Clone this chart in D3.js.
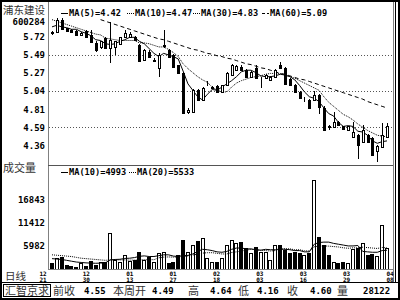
<!DOCTYPE html>
<html>
<head>
<meta charset="utf-8">
<script src="https://cdn.jsdelivr.net/npm/d3@7"></script>
<style>
body { margin: 0; background: #fff; }
svg { display: block; }
</style>
</head>
<body>
<div id="container"><svg></svg></div>
<script>
let width = 400
let height = 300
let monoFont = '"DejaVu Sans Mono", "Liberation Mono", monospace'
let cnFont = '"Noto Sans CJK SC", sans-serif'

let stockName = '浦东建设'
let stockCode = '600284'

// daily candles, oldest first
let opens = [5.77, 5.78, 5.93, 5.82, 5.80, 5.79, 5.74, 5.79, 5.74, 5.64,
    5.59, 5.70, 5.58, 5.59, 5.63, 5.72, 5.72, 5.71, 5.61, 5.43,
    5.53, 5.41, 5.33, 5.60, 5.55, 5.49, 5.36, 5.27, 4.78, 4.78,
    5.05, 4.93, 5.13, 5.08, 5.10, 5.03, 5.12, 5.24, 5.30, 5.34,
    5.30, 5.22, 5.33, 5.17, 5.20, 5.18, 5.22, 5.36, 5.33, 5.19,
    5.12, 5.03, 4.93, 4.93, 4.93, 4.99, 4.83, 4.60, 4.59, 4.66,
    4.60, 4.56, 4.47, 4.49, 4.40, 4.49, 4.46, 4.30, 4.34, 4.47]
let highs = [5.79, 5.95, 5.95, 5.83, 5.81, 5.80, 5.78, 5.80, 5.80, 5.66,
    5.67, 5.71, 5.90, 5.67, 5.72, 5.80, 5.77, 5.73, 5.63, 5.57,
    5.55, 5.45, 5.51, 5.80, 5.57, 5.50, 5.37, 5.28, 4.83, 5.06,
    5.07, 5.09, 5.17, 5.10, 5.11, 5.12, 5.28, 5.38, 5.37, 5.36,
    5.31, 5.29, 5.37, 5.21, 5.25, 5.23, 5.31, 5.40, 5.34, 5.20,
    5.13, 5.04, 4.97, 4.94, 5.04, 5.00, 4.85, 4.62, 4.78, 4.67,
    4.61, 4.61, 4.66, 4.50, 4.62, 4.50, 4.47, 4.37, 4.64, 4.64]
let lows = [5.74, 5.77, 5.80, 5.78, 5.77, 5.73, 5.73, 5.70, 5.64, 5.53,
    5.57, 5.57, 5.39, 5.49, 5.62, 5.71, 5.71, 5.66, 5.40, 5.42,
    5.45, 5.40, 5.22, 5.58, 5.46, 5.33, 5.26, 4.75, 4.75, 4.77,
    4.92, 4.92, 5.10, 5.06, 5.02, 5.02, 5.11, 5.23, 5.29, 5.29,
    5.21, 5.21, 5.19, 5.08, 5.19, 5.17, 5.21, 5.32, 5.12, 5.11,
    5.02, 4.94, 4.90, 4.82, 4.92, 4.76, 4.55, 4.55, 4.58, 4.61,
    4.56, 4.54, 4.46, 4.20, 4.39, 4.40, 4.24, 4.16, 4.33, 4.46]
let closes = [5.76, 5.93, 5.81, 5.79, 5.78, 5.74, 5.76, 5.71, 5.65, 5.55,
    5.66, 5.58, 5.68, 5.66, 5.71, 5.76, 5.75, 5.68, 5.41, 5.55,
    5.47, 5.43, 5.49, 5.61, 5.47, 5.34, 5.27, 4.77, 4.81, 5.05,
    4.93, 5.08, 5.13, 5.09, 5.03, 5.11, 5.27, 5.36, 5.35, 5.30,
    5.22, 5.28, 5.20, 5.17, 5.24, 5.22, 5.30, 5.33, 5.13, 5.12,
    5.03, 4.95, 4.93, 4.83, 4.99, 4.84, 4.56, 4.59, 4.66, 4.62,
    4.57, 4.60, 4.53, 4.37, 4.56, 4.41, 4.25, 4.36, 4.49, 4.60]
let volumes = [1970, 3150, 3380, 1500, 1260, 1100, 1970, 1260, 2440, 1500,
    2200, 2280, 9050, 2680, 2200, 3860, 2510, 2680, 4640, 2680,
    3380, 2200, 4330, 4640, 1970, 2200, 3860, 7400, 4640, 6220,
    7160, 7870, 3150, 2280, 2280, 3150, 6220, 7400, 6690, 7000,
    5510, 4330, 5820, 4640, 4560, 2680, 6220, 6220, 5040, 4330,
    4640, 4330, 3860, 4330, 21500, 8000, 6300, 3860, 2280, 1970,
    2200, 1900, 5300, 5500, 6800, 3800, 4000, 3700, 11000, 5600]

// moving averages as drawn (MA60 line is not visible in the chart, only its legend value)
let ma5 = [5.84, 5.86, 5.84, 5.83, 5.81, 5.81, 5.78, 5.76, 5.73, 5.68,
    5.67, 5.63, 5.62, 5.63, 5.66, 5.68, 5.71, 5.71, 5.66, 5.63,
    5.57, 5.51, 5.47, 5.51, 5.49, 5.47, 5.44, 5.29, 5.13, 5.05,
    4.97, 4.93, 5.00, 5.06, 5.05, 5.09, 5.13, 5.17, 5.22, 5.28,
    5.30, 5.30, 5.27, 5.23, 5.22, 5.22, 5.23, 5.25, 5.24, 5.22,
    5.18, 5.11, 5.03, 4.97, 4.95, 4.91, 4.83, 4.76, 4.73, 4.65,
    4.60, 4.61, 4.60, 4.54, 4.53, 4.49, 4.42, 4.39, 4.41, 4.42]
let ma10 = [5.93, 5.91, 5.89, 5.87, 5.85, 5.83, 5.81, 5.79, 5.77, 5.75,
    5.74, 5.70, 5.69, 5.68, 5.67, 5.67, 5.67, 5.67, 5.64, 5.64,
    5.63, 5.61, 5.59, 5.59, 5.56, 5.52, 5.47, 5.38, 5.32, 5.27,
    5.22, 5.18, 5.15, 5.09, 5.05, 5.03, 5.03, 5.09, 5.14, 5.17,
    5.19, 5.21, 5.22, 5.23, 5.25, 5.26, 5.26, 5.26, 5.24, 5.22,
    5.20, 5.17, 5.14, 5.11, 5.08, 5.05, 4.97, 4.90, 4.85, 4.80,
    4.75, 4.72, 4.68, 4.63, 4.59, 4.55, 4.52, 4.49, 4.48, 4.47]
let ma30 = [null, null, null, null, null, null, null, null, null, null,
    5.93, 5.91, 5.89, 5.87, 5.85, 5.83, 5.81, 5.79, 5.77, 5.75,
    5.73, 5.71, 5.69, 5.68, 5.66, 5.64, 5.62, 5.60, 5.58, 5.56,
    5.55, 5.53, 5.51, 5.50, 5.48, 5.47, 5.45, 5.44, 5.42, 5.40,
    5.38, 5.37, 5.35, 5.33, 5.32, 5.30, 5.28, 5.26, 5.25, 5.23,
    5.21, 5.19, 5.18, 5.16, 5.14, 5.12, 5.10, 5.08, 5.06, 5.04,
    5.02, 5.00, 4.98, 4.96, 4.94, 4.91, 4.89, 4.87, 4.85, 4.83]
let volMa10 = [3000, 2900, 2800, 2600, 2400, 2200, 2100, 2000, 1950, 1900,
    1950, 2000, 2700, 2800, 2850, 3050, 3100, 3250, 3550, 3650,
    3500, 3500, 3700, 3900, 3900, 3600, 3500, 3750, 3750, 4100,
    4700, 5200, 5100, 4900, 4600, 4500, 4700, 5200, 5500, 5500,
    5300, 5300, 5100, 5000, 5200, 5100, 5100, 5300, 5200, 5100,
    4900, 4900, 4600, 4600, 6400, 6800, 6900, 6900, 6600, 6400,
    6200, 6000, 6000, 6100, 4700, 4600, 4500, 4500, 4900, 4993]
let volMa20 = [3900, 3800, 3700, 3600, 3500, 3300, 3100, 3000, 2900, 2800,
    2700, 2600, 2700, 2700, 2700, 2700, 2650, 2650, 2700, 2750,
    2750, 2750, 3200, 3350, 3400, 3350, 3400, 3500, 3650, 3850,
    4100, 4300, 4400, 4400, 4250, 4100, 4100, 4450, 4600, 4800,
    5000, 5200, 5100, 4950, 4900, 4800, 4900, 5150, 5350, 5300,
    5100, 5100, 4850, 4800, 5800, 5950, 6000, 5950, 5850, 5750,
    5550, 5450, 5550, 5550, 5700, 5600, 5500, 5400, 5650, 5533]

let priceTicks = [5.72, 5.49, 5.27, 5.04, 4.81, 4.59, 4.36]
let gridTicks = [5.49, 5.04, 4.59]
let volTicks = [16843, 11412, 5982]
let volBase = 552
let dateMonths = ['12', '12', '01', '01', '02', '03', '03', '03', '04']
let dateDays = ['21', '30', '13', '27', '18', '03', '16', '29', '08']

let priceLegend = ['MA(5)=4.42', 'MA(10)=4.47', 'MA(30)=4.83', 'MA(60)=5.09']
let volLegend = ['MA(10)=4993', 'MA(20)=5533']
let infoLabels = ['前收', '本周开', '高', '低', '收', '量']
let infoValues = ['4.55', '4.49', '4.64', '4.16', '4.60', '28122']
let brand = '汇智京求'

function draw_main() {
    let svg = d3.select('#container').select('svg')
        .attr('width', width)
        .attr('height', height)
    let plot = { left: 48, right: 393, priceTop: 17, priceBottom: 164, volTop: 165, volBottom: 269 }
    let n = closes.length

    let x = d3.scaleLinear().domain([0, n - 1]).range([52, 387])
    let y = d3.scaleLinear().domain([4.36, 5.72]).range([145.7, 36.5])
    let yv = d3.scaleLinear().domain([volBase, 16843]).range([plot.volBottom, 200])
    let cx = i => Math.round(x(i))

    // frame
    svg.append('rect').attr('x', 1).attr('y', 1).attr('width', width - 2).attr('height', height - 2)
        .attr('fill', 'none').attr('stroke', '#000').attr('stroke-width', 2)
    let frame = svg.append('g').attr('stroke', '#808080').attr('shape-rendering', 'crispEdges')
    frame.append('line').attr('x1', plot.left + 0.5).attr('x2', plot.left + 0.5).attr('y1', 2).attr('y2', plot.volBottom)
    frame.append('line').attr('x1', plot.right + 0.5).attr('x2', plot.right + 0.5).attr('y1', 2).attr('y2', 282)
    frame.append('line').attr('x1', 395.5).attr('x2', 395.5).attr('y1', 2).attr('y2', 282).attr('stroke', '#000')
    frame.append('line').attr('x1', plot.left).attr('x2', plot.right).attr('y1', plot.volTop + 0.5).attr('y2', plot.volTop + 0.5).attr('stroke', '#555')
    frame.append('line').attr('x1', plot.left).attr('x2', plot.right).attr('y1', plot.volBottom + 0.5).attr('y2', plot.volBottom + 0.5)
    frame.append('line').attr('x1', 2).attr('x2', width - 2).attr('y1', 282.5).attr('y2', 282.5).attr('stroke', '#000')

    // clip paths
    let defs = svg.append('defs')
    defs.append('clipPath').attr('id', 'clip-price').append('rect')
        .attr('x', plot.left + 1).attr('y', plot.priceTop).attr('width', plot.right - plot.left - 1).attr('height', plot.priceBottom - plot.priceTop)
    defs.append('clipPath').attr('id', 'clip-vol').append('rect')
        .attr('x', plot.left + 1).attr('y', plot.volTop + 8).attr('width', plot.right - plot.left - 1).attr('height', plot.volBottom - plot.volTop - 8)

    // left labels
    svg.append('text').attr('x', 3).attr('y', 14).text(stockName)
        .attr('font-family', cnFont).attr('font-size', 10.5).attr('fill', '#333')
    svg.append('text').attr('x', 45).attr('y', 25).attr('text-anchor', 'end').text(stockCode)
        .attr('font-family', monoFont).attr('font-size', 9).attr('font-weight', 'bold')
    svg.append('text').attr('x', 3).attr('y', 172).text('成交量')
        .attr('font-family', cnFont).attr('font-size', 11).attr('fill', '#333')
    svg.append('text').attr('x', 5).attr('y', 279.5).text('日线')
        .attr('font-family', cnFont).attr('font-size', 10.5).attr('fill', '#333')

    // price axis
    let axis_p = d3.axisLeft(y).tickValues(priceTicks).tickSize(0).tickPadding(0).tickFormat(d3.format('.2f'))
    svg.append('g').attr('transform', `translate(${45}, 0)`)
        .call(axis_p)
        .call(g => g.select('.domain').remove())
        .attr('font-family', monoFont).attr('font-size', 9).attr('font-weight', 'bold')

    // volume axis
    let axis_v = d3.axisLeft(yv).tickValues(volTicks).tickSize(0).tickPadding(0).tickFormat(d3.format('d'))
    svg.append('g').attr('transform', `translate(${45}, 0)`)
        .call(axis_v)
        .call(g => g.select('.domain').remove())
        .attr('font-family', monoFont).attr('font-size', 9).attr('font-weight', 'bold')

    // dotted grid
    svg.append('g').selectAll('line').data(gridTicks).enter().append('line')
        .attr('x1', plot.left + 1).attr('x2', plot.right)
        .attr('y1', d => Math.round(y(d)) + 0.5).attr('y2', d => Math.round(y(d)) + 0.5)
        .attr('stroke', '#555').attr('stroke-dasharray', '1,2').attr('shape-rendering', 'crispEdges')

    // price MA lines
    let priceG = svg.append('g').attr('clip-path', 'url(#clip-price)')
    let maSeries = [[ma30, '4,3'], [ma10, '1,1'], [ma5, null]]
    maSeries.forEach(s => {
        let line = d3.line().defined(d => d != null).x((d, i) => x(i)).y(d => y(d))
        priceG.append('path').datum(s[0]).attr('d', line)
            .attr('fill', 'none').attr('stroke', '#000').attr('stroke-width', 1)
            .attr('stroke-dasharray', s[1])
    })

    // candles
    let candles = priceG.append('g').attr('shape-rendering', 'crispEdges')
        .selectAll('g').data(closes).enter().append('g')
    candles.append('line')
        .attr('x1', (d, i) => cx(i) + 0.5).attr('x2', (d, i) => cx(i) + 0.5)
        .attr('y1', (d, i) => y(highs[i])).attr('y2', (d, i) => y(lows[i]))
        .attr('stroke', '#000')
    candles.append('rect')
        .attr('x', (d, i) => cx(i) - 0.5)
        .attr('width', 2)
        .attr('y', (d, i) => Math.round(y(Math.max(opens[i], d))) + 0.5)
        .attr('height', (d, i) => Math.max(0, Math.round(y(Math.min(opens[i], d))) - Math.round(y(Math.max(opens[i], d)))))
        .attr('fill', (d, i) => d >= opens[i] ? '#fff' : '#000')
        .attr('stroke', '#000')

    // volume bars
    let volG = svg.append('g').attr('clip-path', 'url(#clip-vol)')
    volG.append('g').attr('shape-rendering', 'crispEdges')
        .selectAll('rect').data(volumes).enter().append('rect')
        .attr('x', (d, i) => cx(i) - 1.5)
        .attr('width', 3)
        .attr('y', d => Math.round(yv(d)) + 0.5)
        .attr('height', d => plot.volBottom - Math.round(yv(d)))
        .attr('fill', (d, i) => closes[i] >= opens[i] ? '#fff' : '#000')
        .attr('stroke', '#000')
    let volLines = [[volMa20, '1,1'], [volMa10, null]]
    volLines.forEach(s => {
        let line = d3.line().x((d, i) => x(i)).y(d => yv(d))
        volG.append('path').datum(s[0]).attr('d', line)
            .attr('fill', 'none').attr('stroke', '#000').attr('stroke-width', 1)
            .attr('stroke-dasharray', s[1])
    })

    // legends: text start positions, sample line drawn just before each
    function draw_legend(items, styles, starts, ly) {
        let g = svg.append('g')
        items.forEach((it, i) => {
            g.append('line').attr('x1', starts[i] - 8).attr('x2', starts[i] - 1).attr('y1', ly - 2.5).attr('y2', ly - 2.5)
                .attr('stroke', '#000').attr('stroke-dasharray', styles[i]).attr('shape-rendering', 'crispEdges')
            g.append('text').attr('x', starts[i]).attr('y', ly)
                .attr('font-family', monoFont).attr('font-size', 9).attr('font-weight', 'bold')
                .attr('textLength', it.length * 5.2).attr('lengthAdjust', 'spacingAndGlyphs')
                .text(it)
        })
    }
    draw_legend(priceLegend, [null, '1,1', '1,1', '3,2'], [69, 135, 201, 270], 16)
    draw_legend(volLegend, [null, '1,1'], [69, 137], 175)

    // dates
    let xd = d3.scalePoint().domain(d3.range(dateMonths.length)).range([43, 390])
    let dates = svg.append('g').attr('font-family', monoFont).attr('font-size', 6).attr('font-weight', 'bold')
        .attr('text-anchor', 'middle')
    dates.selectAll('.m').data(dateMonths).enter().append('text')
        .attr('x', (d, i) => xd(i)).attr('y', 275.5).text(d => d)
    dates.selectAll('.d').data(dateDays).enter().append('text')
        .attr('x', (d, i) => xd(i)).attr('y', 281.5).text(d => d)

    // info bar
    svg.append('rect').attr('x', 3.5).attr('y', 284.5).attr('width', 47).attr('height', 12)
        .attr('fill', 'none').attr('stroke', '#000').attr('shape-rendering', 'crispEdges')
    svg.append('text').attr('x', 5).attr('y', 295).text(brand)
        .attr('font-family', cnFont).attr('font-size', 11).attr('fill', '#333')
    let labelX = [53, 113, 188, 238, 287, 337]
    let valueX = [84, 152, 210, 257, 310, 363]
    infoLabels.forEach((d, i) => {
        svg.append('text').attr('x', labelX[i]).attr('y', 295).text(d)
            .attr('font-family', cnFont).attr('font-size', 11).attr('fill', '#333')
        svg.append('text').attr('x', valueX[i]).attr('y', 294).text(infoValues[i])
            .attr('font-family', monoFont).attr('font-size', 9).attr('font-weight', 'bold')
    })
}

draw_main()
</script>
</body>
</html>
